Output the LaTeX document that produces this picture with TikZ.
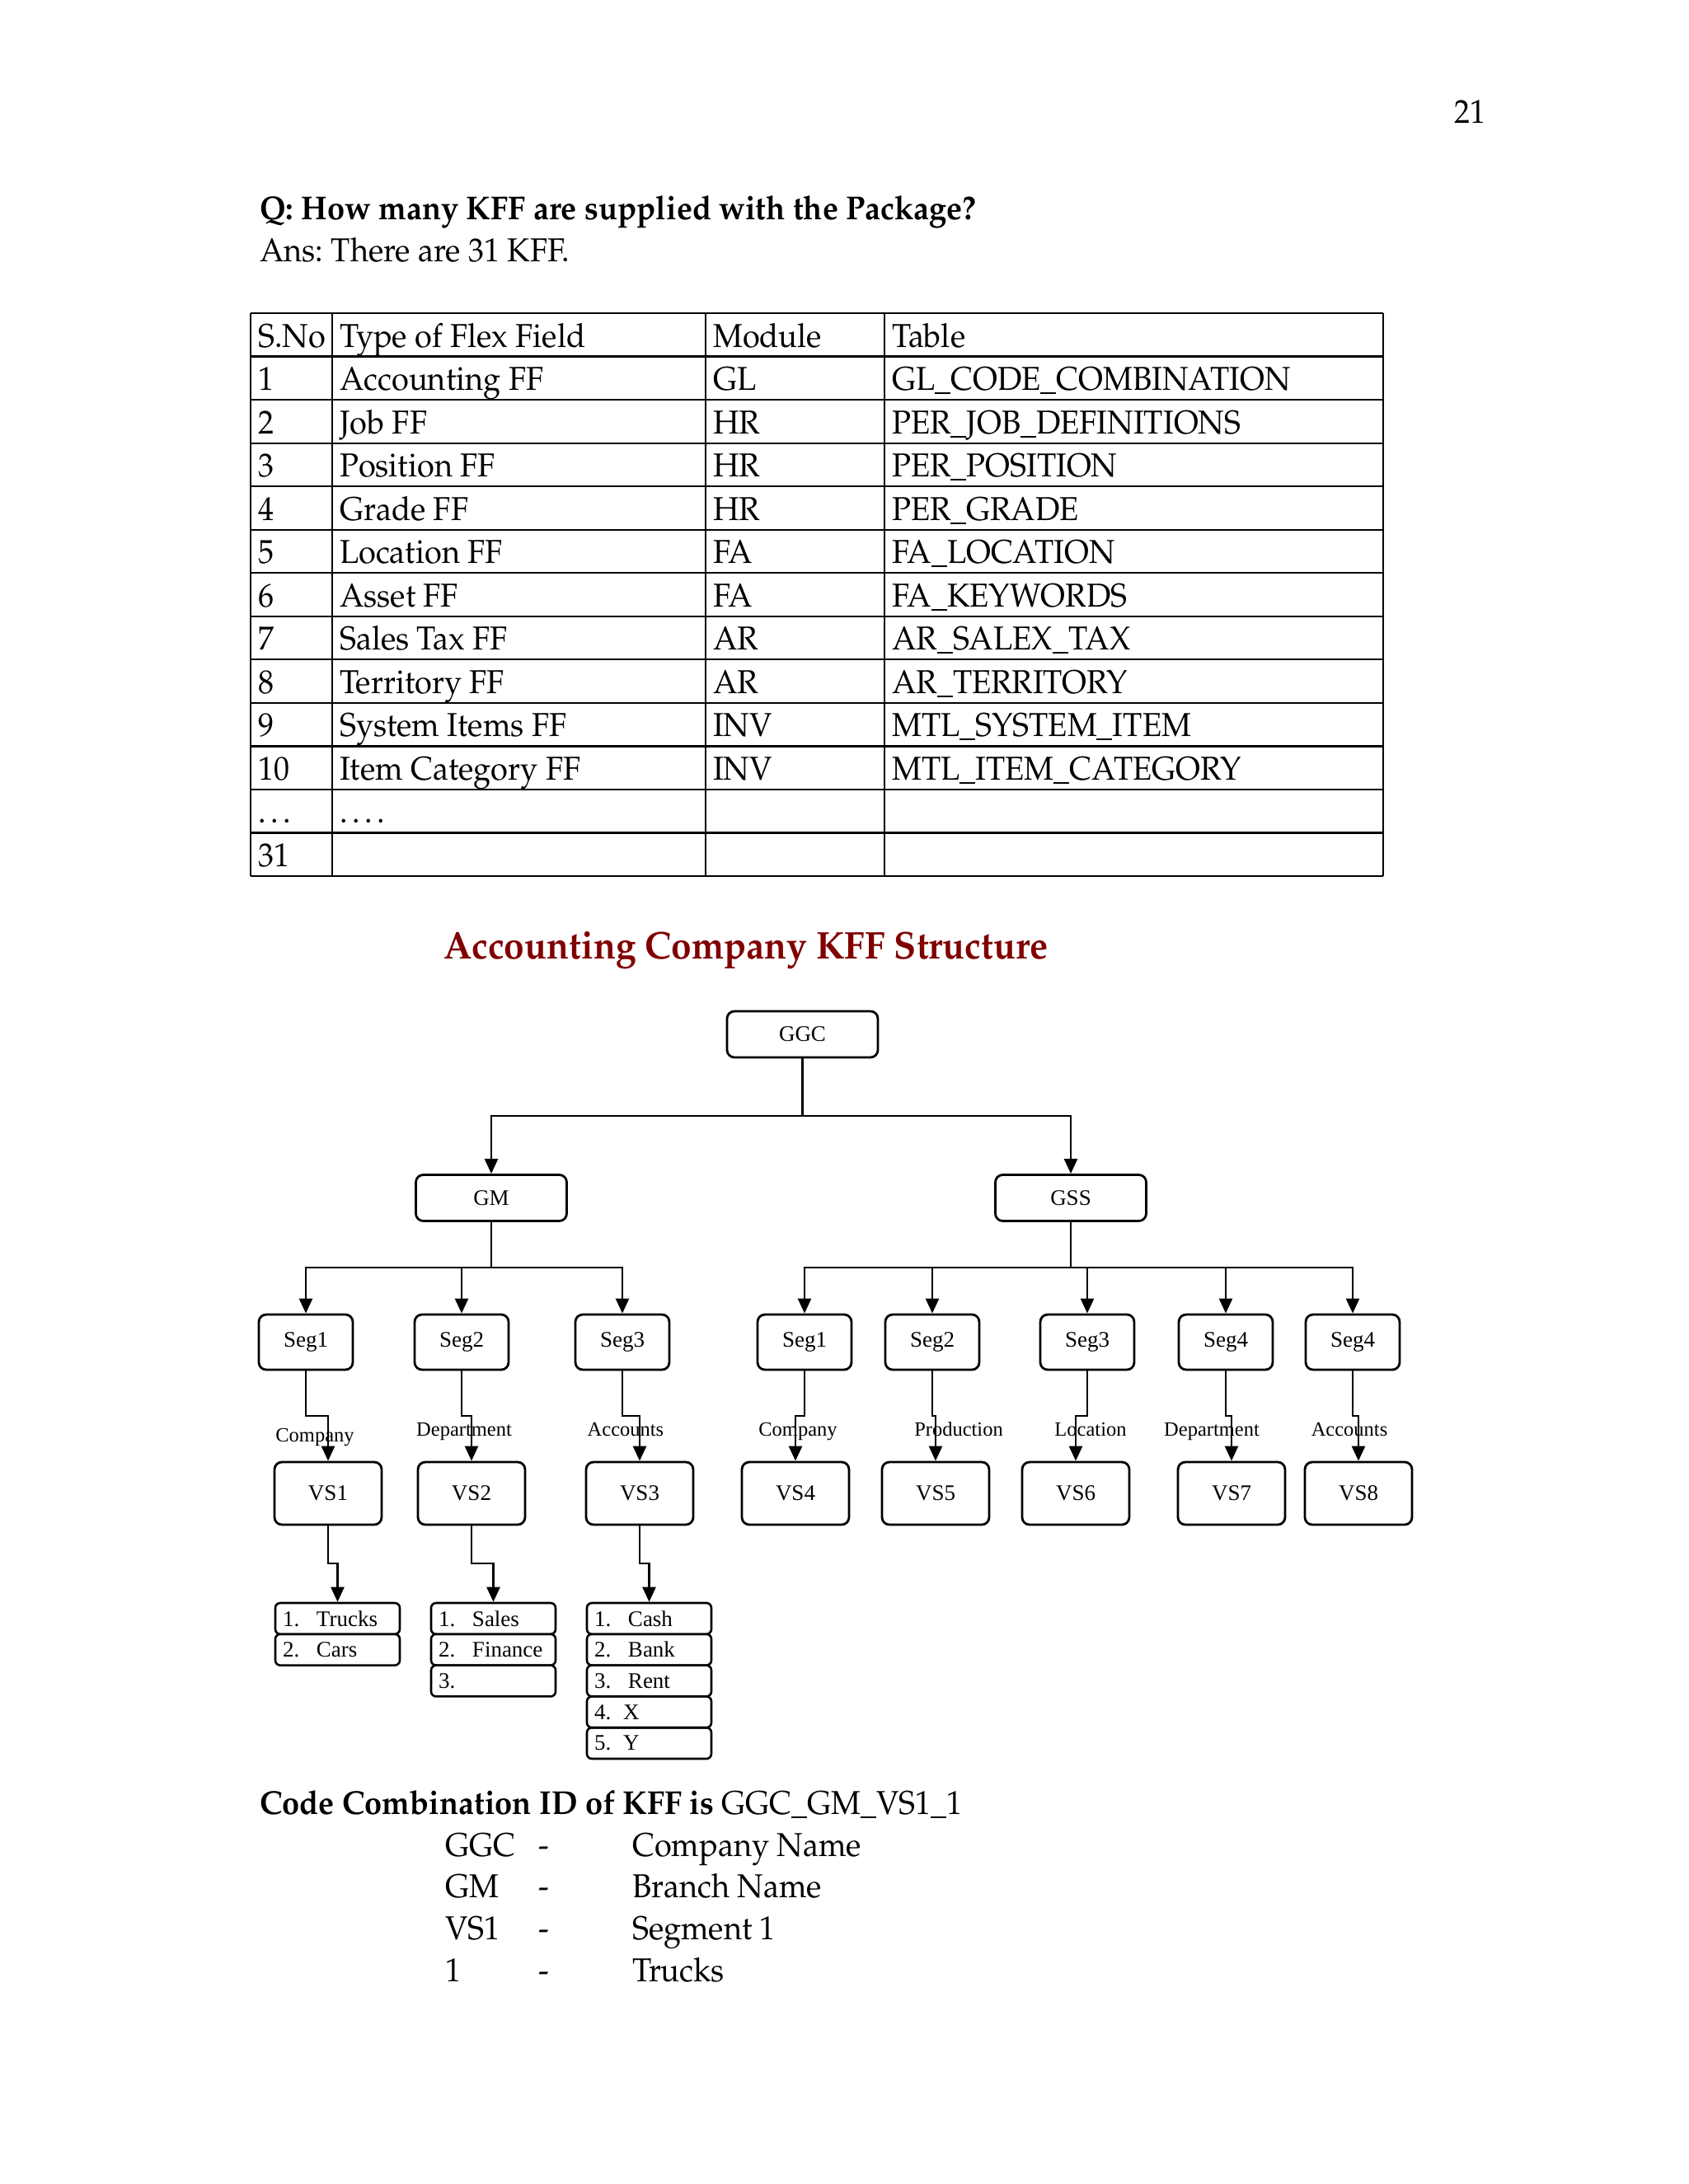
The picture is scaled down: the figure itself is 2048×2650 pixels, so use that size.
\documentclass[tikz,border=0pt]{standalone}
\usepackage{fontspec}
\newfontfamily\tms{Liberation Serif}
\usepackage[T1]{fontenc}
\renewcommand{\rmdefault}{ppl}
\usetikzlibrary{arrows.meta}
\definecolor{titlered}{RGB}{128,0,0}
\frenchspacing
\tikzset{
  body/.style={font=\fontsize{40.15}{48}\selectfont, anchor=base west, inner sep=0pt, xscale=0.945},
  tline/.style={line width=2.2pt},
  dbox/.style={draw, line width=2.8pt, rounded corners=9pt, inner sep=0pt, font=\tms\fontsize{27}{30}\selectfont},
  topbox/.style={dbox, minimum width=183pt, minimum height=56pt},
  segbox/.style={dbox, minimum width=114pt, minimum height=67pt},
  vsbox/.style={dbox, minimum width=130pt, minimum height=76pt},
  itembox/.style={draw, line width=2.6pt, rounded corners=6pt, minimum width=151pt, minimum height=37.8pt,
     text width=151pt-18pt, inner xsep=9pt, inner ysep=0pt, align=left, font=\tms\fontsize{27}{30}\selectfont},
  lab/.style={anchor=base, inner sep=0pt, font=\tms\fontsize{24.5}{28}\selectfont},
  conn/.style={line width=2.5pt},
  arr/.style={conn, -{Triangle[length=18pt,width=16pt]}},
}
\begin{document}
\frenchspacing
\begin{tikzpicture}[x=1pt,y=-1pt]
\path[use as bounding box, fill=white] (0,0) rectangle (2048,2650);

% page number and question
\node[body, anchor=base east] (pgno) at (1803,149) {21};
\node[body] (q) at (315,266) {\bfseries Q: How many KFF are supplied with the Package?};
\node[body] (ans) at (315,317) {Ans: There are 31 KFF.};

% table grid
\foreach \k in {0,...,13} \draw[tline] (304,{380+52.54*\k}) -- (1678,{380+52.54*\k});
\foreach \xx in {304,403,856,1073,1678} \draw[tline] (\xx,380) -- (\xx,1063);

% table text
\foreach \a/\b/\c/\d [count=\i from 0] in {
  S.No/Type of Flex Field/Module/Table,
  1/Accounting FF/GL/GL\_CODE\_COMBINATION,
  2/Job FF/HR/PER\_JOB\_DEFINITIONS,
  3/Position FF/HR/PER\_POSITION,
  4/Grade FF/HR/PER\_GRADE,
  5/Location FF/FA/FA\_LOCATION,
  6/Asset FF/FA/FA\_KEYWORDS,
  7/Sales Tax FF/AR/AR\_SALEX\_TAX,
  8/Territory FF/AR/AR\_TERRITORY,
  9/System Items FF/INV/MTL\_SYSTEM\_ITEM,
  10/Item Category FF/INV/MTL\_ITEM\_CATEGORY,
  \ldots/\ldots./{}/{},
  31/{}/{}/{}}{
  \node[body] (ta\i) at (313,{421+52.54*\i}) {\a};
  \node[body] (tb\i) at (412,{421+52.54*\i}) {\b};
  \node[body] (tc\i) at (865,{421+52.54*\i}) {\c};
  \node[body] (td\i) at (1082,{421+52.54*\i}) {\d};
}

% title
\node[anchor=base, inner sep=0pt, xscale=0.945, text=titlered, font=\fontsize{46.8}{56}\selectfont\bfseries] (title) at (905,1163) {Accounting Company KFF Structure};

% diagram nodes
\node[topbox] (ggc) at (973.5,1255) {GGC};
\node[topbox] (gm) at (596,1453.5) {GM};
\node[topbox] (gss) at (1299,1453.5) {GSS};

\node[segbox] (gs1) at (371,1628.5) {Seg1};
\node[segbox] (gs2) at (560,1628.5) {Seg2};
\node[segbox] (gs3) at (755,1628.5) {Seg3};
\node[segbox] (ss1) at (976,1628.5) {Seg1};
\node[segbox] (ss2) at (1131,1628.5) {Seg2};
\node[segbox] (ss3) at (1319,1628.5) {Seg3};
\node[segbox] (ss4) at (1487,1628.5) {Seg4};
\node[segbox] (ss5) at (1641,1628.5) {Seg4};

\node[vsbox] (v1) at (398,1812) {VS1};
\node[vsbox] (v2) at (572,1812) {VS2};
\node[vsbox] (v3) at (776,1812) {VS3};
\node[vsbox] (v4) at (965,1812) {VS4};
\node[vsbox] (v5) at (1135,1812) {VS5};
\node[vsbox] (v6) at (1305,1812) {VS6};
\node[vsbox] (v7) at (1494,1812) {VS7};
\node[vsbox] (v8) at (1648,1812) {VS8};

% labels
\node[lab] (lb1) at (382,1749) {Company};
\node[lab] (lb2) at (563,1742) {Department};
\node[lab] (lb3) at (759,1742) {Accounts};
\node[lab] (lb4) at (968,1742) {Company};
\node[lab] (lb5) at (1163,1742) {Production};
\node[lab] (lb6) at (1323,1742) {Location};
\node[lab] (lb7) at (1470,1742) {Department};
\node[lab] (lb8) at (1637,1742) {Accounts};

% value lists
\node[itembox] (l1a) at (409.5,1963.9) {\makebox[41pt][l]{1.}Trucks};
\node[itembox] (l1b) at (409.5,2001.7) {\makebox[41pt][l]{2.}Cars};
\node[itembox] (l2a) at (598.5,1963.9) {\makebox[41pt][l]{1.}Sales};
\node[itembox] (l2b) at (598.5,2001.7) {\makebox[41pt][l]{2.}Finance};
\node[itembox] (l2c) at (598.5,2039.5) {3.};
\node[itembox] (l3a) at (787.5,1963.9) {\makebox[41pt][l]{1.}Cash};
\node[itembox] (l3b) at (787.5,2001.7) {\makebox[41pt][l]{2.}Bank};
\node[itembox] (l3c) at (787.5,2039.5) {\makebox[41pt][l]{3.}Rent};
\node[itembox] (l3d) at (787.5,2077.3) {\makebox[35pt][l]{4.}X};
\node[itembox] (l3e) at (787.5,2115.1) {\makebox[35pt][l]{5.}Y};

% junctions
\coordinate (j0) at (973.5,1354);
\coordinate (j1) at (596,1538);
\coordinate (j2) at (1299,1538);
\coordinate (jy) at (0,1718);
\coordinate (ky) at (0,1897);

% connectors
\draw[conn] (ggc.south) -- (j0);
\draw[arr] (j0) -| (gm.north);
\draw[arr] (j0) -| (gss.north);
\draw[conn] (gm.south) -- (j1);
\draw[conn] (gss.south) -- (j2);
\foreach \s in {gs1,gs2,gs3} \draw[arr] (j1) -| (\s.north);
\foreach \s in {ss1,ss2,ss3,ss4,ss5} \draw[arr] (j2) -| (\s.north);
\foreach \s/\v in {gs1/v1,gs2/v2,gs3/v3,ss1/v4,ss2/v5,ss3/v6,ss4/v7,ss5/v8}
  \draw[arr] (\s.south) -- (\s.south |- jy) -| (\v.north);
\foreach \v/\l in {v1/l1a,v2/l2a,v3/l3a}
  \draw[arr] (\v.south) -- (\v.south |- ky) -| (\l.north);

% code combination text
\node[body] (cc) at (315,2201) {\bfseries Code Combination ID of KFF is \mdseries GGC\_GM\_VS1\_1};
\foreach \k/\m [count=\i from 0] in {GGC/Company Name, GM/Branch Name, VS1/Segment 1, 1/Trucks}{
  \node[body] (ck\i) at (540,{2252+50.9*\i}) {\k};
  \node[body] (cd\i) at (653,{2252+50.9*\i}) {-};
  \node[body] (cv\i) at (767,{2252+50.9*\i}) {\m};
}
\end{tikzpicture}
\end{document}
